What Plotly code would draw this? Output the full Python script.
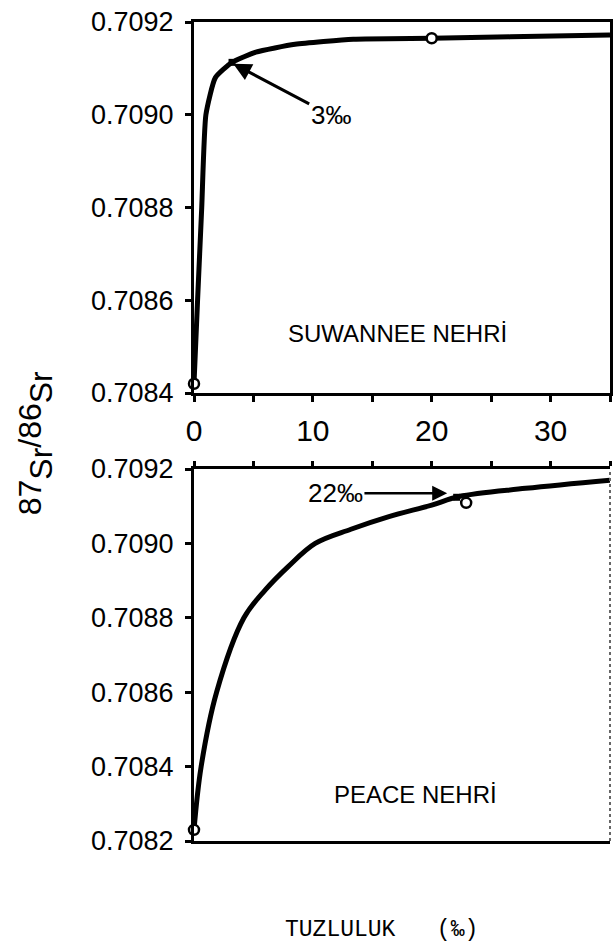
import plotly.graph_objects as go

# ---- data ----
salinity_suwannee = [0, 0.3, 0.65, 1.0, 1.8, 3.2, 5.2, 8.5, 13.4, 20, 26.6, 35]
ratio_suwannee = [0.70842, 0.70860, 0.70880, 0.70900, 0.70908, 0.709113, 0.709135,
                  0.709152, 0.709163, 0.709165, 0.709168, 0.709172]
samples_suwannee_x = [0, 20]
samples_suwannee_y = [0.70842, 0.709165]
tip_suwannee_x = [3.2]
tip_suwannee_y = [0.709113]

salinity_peace = [0, 0.6, 1.9, 4.2, 6.0, 7.9, 10.2, 13.2, 16.4, 20.0, 22.3, 27.9, 35]
ratio_peace = [0.70823, 0.7084, 0.7086, 0.7088, 0.708875, 0.708937, 0.7090, 0.709038,
               0.709072, 0.709103, 0.709126, 0.709148, 0.70917]
samples_peace_x = [0, 22.9]
samples_peace_y = [0.70823, 0.709109]
tip_peace_x = [22.1]
tip_peace_y = [0.709124]

y_top_ticks = [0.7084, 0.7086, 0.7088, 0.7090, 0.7092]
y_bot_ticks = [0.7082, 0.7084, 0.7086, 0.7088, 0.7090, 0.7092]

FONT = "Liberation Sans, Arial, sans-serif"

fig = go.Figure()

def add_panel(xs, ys, sx, sy, tx, ty, xa, ya, smooth):
    fig.add_trace(go.Scatter(x=xs, y=ys, mode="lines",
                             line=dict(color="black", width=5, shape="spline", smoothing=smooth),
                             xaxis=xa, yaxis=ya, showlegend=False, hoverinfo="skip"))
    fig.add_trace(go.Scatter(x=tx, y=ty, mode="markers",
                             marker=dict(symbol="square", size=7, color="black"),
                             xaxis=xa, yaxis=ya, showlegend=False, hoverinfo="skip"))
    fig.add_trace(go.Scatter(x=sx, y=sy, mode="markers",
                             marker=dict(symbol="circle", size=10, color="white",
                                         line=dict(color="black", width=2.5)),
                             cliponaxis=False, xaxis=xa, yaxis=ya, showlegend=False))

add_panel(salinity_suwannee, ratio_suwannee, samples_suwannee_x, samples_suwannee_y,
          tip_suwannee_x, tip_suwannee_y, "x", "y", 0.5)
add_panel(salinity_peace, ratio_peace, samples_peace_x, samples_peace_y,
          tip_peace_x, tip_peace_y, "x2", "y2", 1.0)

axis_common = dict(showgrid=False, zeroline=False, linecolor="black", linewidth=3,
                   tickcolor="black", tickwidth=2.5, ticks="outside")
minor_x = dict(dtick=5, tick0=0, ticks="outside", ticklen=6, tickwidth=2.5,
               tickcolor="black", showgrid=False)

fig.update_layout(
    width=614, height=947,
    margin=dict(l=194, r=1, t=22, b=106),
    paper_bgcolor="white", plot_bgcolor="white",
    font=dict(family=FONT, color="black"),
    xaxis=dict(axis_common, domain=[0, 1], range=[0, 35], anchor="y",
               tickmode="linear", tick0=0, dtick=10, ticklen=6, minor=minor_x,
               tickfont=dict(size=30, family=FONT), ticklabelstandoff=3, mirror=True),
    yaxis=dict(axis_common, domain=[0.547, 1.0], range=[0.7084, 0.7092], anchor="x",
               tickvals=y_top_ticks, ticktext=["%.4f" % v for v in y_top_ticks],
               ticklen=6, tickfont=dict(size=27, family=FONT), ticklabelstandoff=6,
               mirror=True),
    xaxis2=dict(axis_common, domain=[0, 1], range=[0, 35], anchor="y2", side="top",
                tickmode="linear", tick0=0, dtick=10, ticklen=5,
                minor=dict(minor_x, ticklen=5),
                showticklabels=False, mirror=True),
    yaxis2=dict(axis_common, domain=[0, 0.4542], range=[0.7082, 0.7092], anchor="x2",
                tickvals=y_bot_ticks, ticktext=["%.4f" % v for v in y_bot_ticks],
                ticklen=6, tickfont=dict(size=27, family=FONT), ticklabelstandoff=6,
                mirror=False),
)

# dotted right border of lower panel
fig.add_shape(type="line", xref="x2 domain", yref="y2 domain", x0=1, x1=1, y0=0, y1=1,
              line=dict(color="#666", width=2, dash="dot"))

annotations = [
    dict(x=3.3, y=0.709110, xref="x", yref="y", ax=11.5, ay=0.708999, axref="x", ayref="y",
         text="3‰", showarrow=True, arrowhead=2, arrowsize=1.2, arrowwidth=3,
         arrowcolor="black", font=dict(size=26, family=FONT)),
    dict(x=21.3, y=0.709135, xref="x2", yref="y2", ax=11.9, ay=0.709135, axref="x2", ayref="y2",
         text="22‰", showarrow=True, arrowhead=2, arrowsize=1.2, arrowwidth=2.5,
         arrowcolor="black", font=dict(size=26, family=FONT)),
    dict(x=17.1, y=0.708529, xref="x", yref="y", text="SUWANNEE NEHRİ", showarrow=False,
         xanchor="center", yanchor="middle", font=dict(size=24, family=FONT)),
    dict(x=18.6, y=0.708324, xref="x2", yref="y2", text="PEACE NEHRİ", showarrow=False,
         xanchor="center", yanchor="middle", font=dict(size=24, family=FONT)),
    dict(x=-0.379, y=0.486, xref="paper", yref="paper", textangle=-90, showarrow=False,
         xanchor="center", yanchor="middle",
         text="87<span style='baseline-shift:-0.35em'>Sr</span>/86<span style='baseline-shift:-0.35em'>Sr</span>",
         font=dict(size=32, family=FONT)),
    dict(x=0.451, y=-0.1087, xref="paper", yref="paper", showarrow=False,
         xanchor="center", yanchor="middle",
         text="TUZLULUK   (‰)", font=dict(size=23, family="Liberation Mono, Courier New, monospace")),
]
fig.update_layout(annotations=annotations)

# remove the browser's default 8px body margin so the 614x947 figure fills the window
fig.write_html("out.html", config={"displayModeBar": False},
               post_script="document.body.style.margin='0';document.body.style.overflow='hidden';")
